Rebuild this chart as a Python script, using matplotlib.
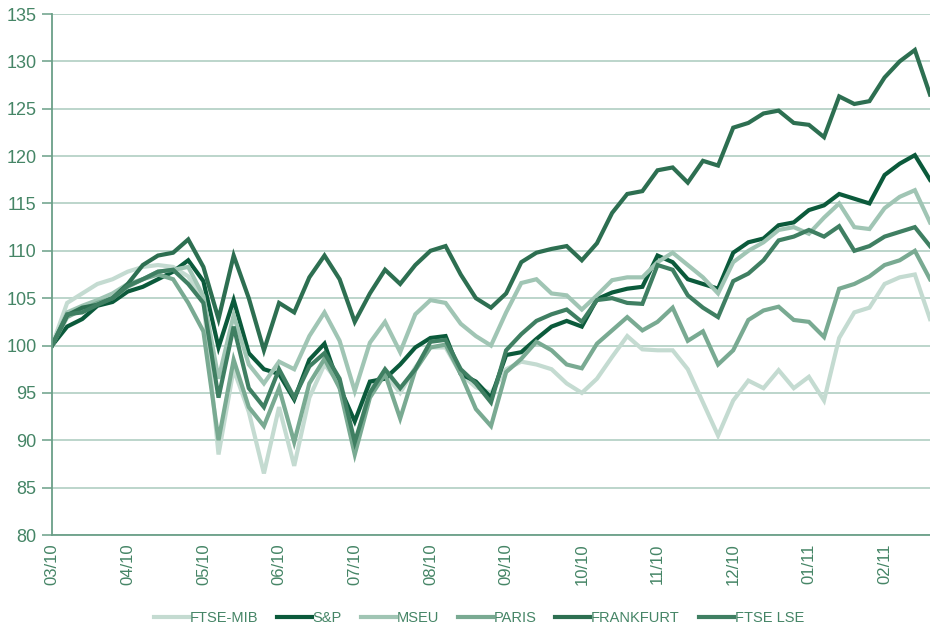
import matplotlib
matplotlib.use("Agg")
import matplotlib.pyplot as plt
import numpy as np

# monthly tick labels (5 samples per month)
months = ["03/10", "04/10", "05/10", "06/10", "07/10", "08/10",
          "09/10", "10/10", "11/10", "12/10", "01/11", "02/11"]

# index levels (base 100), sampled ~every 4 trading days
ftse_mib = [100, 104.5, 105.5, 106.5, 107, 107.8, 108.3, 108.5, 108.3, 107.3,
            104.8, 88.5, 97.5, 93, 86.5, 93.5, 87.3, 94.5, 98, 96,
            88.8, 95.8, 97, 95, 97.7, 99.8, 99.8, 97, 95.6, 95,
            97.5, 98.3, 98, 97.5, 96, 95, 96.5, 98.8, 101, 99.6,
            99.5, 99.5, 97.5, 94, 90.5, 94.2, 96.3, 95.5, 97.4, 95.5,
            96.7, 94.2, 100.8, 103.5, 104, 106.5, 107.2, 107.5, 102.8]
sp = [100, 102, 102.8, 104.2, 104.6, 105.7, 106.2, 107, 107.8, 109,
      106.8, 99.8, 104.8, 99.2, 97.5, 97, 94.3, 98.5, 100.2, 95.6,
      92, 96.2, 96.5, 98, 99.8, 100.8, 101, 97, 96.2, 94.5,
      99, 99.3, 100.7, 102, 102.6, 102, 104.9, 105.6, 106, 106.2,
      109.5, 108.8, 107, 106.5, 106, 109.8, 110.9, 111.3, 112.7, 113,
      114.3, 114.8, 116, 115.5, 115, 118, 119.2, 120.1, 117.5]
mseu = [100, 103.5, 104.2, 104.8, 105.5, 106.5, 107, 107.8, 108, 108.3,
        105.2, 96.5, 103.2, 98, 96, 98.3, 97.5, 101, 103.5, 100.5,
        95.2, 100.3, 102.5, 99.3, 103.3, 104.8, 104.5, 102.3, 101, 100,
        103.5, 106.6, 107, 105.5, 105.3, 103.8, 105.3, 106.9, 107.2, 107.2,
        108.8, 109.8, 108.5, 107.2, 105.5, 108.8, 110, 110.9, 112.2, 112.5,
        111.8, 113.5, 115, 112.5, 112.3, 114.5, 115.7, 116.4, 113]
paris = [100, 103, 103.8, 104.5, 105, 106.2, 107, 107.5, 107, 104.5,
         101.5, 90, 98.5, 93.5, 91.5, 95.5, 89.8, 96, 98.6, 95.5,
         88.5, 94.5, 97, 92.3, 97.4, 99.8, 100.1, 97, 93.3, 91.5,
         97.2, 98.6, 100.4, 99.5, 98, 97.6, 100.2, 101.6, 103, 101.6,
         102.5, 104, 100.5, 101.5, 98, 99.5, 102.7, 103.7, 104.1, 102.7,
         102.5, 100.9, 106, 106.5, 107.3, 108.5, 109, 110, 107]
frankfurt = [100, 103.2, 104, 104.3, 105, 106.5, 108.5, 109.5, 109.8, 111.2,
             108.3, 102.8, 109.5, 105, 99.5, 104.5, 103.5, 107.2, 109.5, 107,
             102.5, 105.5, 108, 106.5, 108.5, 110, 110.5, 107.5, 105, 104,
             105.5, 108.8, 109.8, 110.2, 110.5, 109, 110.8, 114, 116, 116.3,
             118.5, 118.8, 117.2, 119.5, 119, 123, 123.5, 124.5, 124.8, 123.5,
             123.3, 122, 126.3, 125.5, 125.8, 128.3, 130, 131.2, 126.5]
ftse_lse = [100, 103.3, 103.5, 104.3, 105, 106.3, 107, 107.8, 108, 106.5,
            104.5, 94.5, 102, 95.5, 93.5, 97.5, 94.5, 97.8, 99.2, 96.5,
            89.8, 95, 97.5, 95.5, 97.5, 100.4, 100.6, 97.5, 96, 94,
            99.5, 101.2, 102.6, 103.3, 103.8, 102.5, 104.8, 105, 104.5, 104.4,
            108.5, 108, 105.3, 104, 103, 106.8, 107.6, 109, 111.1, 111.5,
            112.2, 111.5, 112.6, 110, 110.5, 111.5, 112, 112.5, 110.5]

series = [
    ("FTSE-MIB", ftse_mib, "#c4dbd1"),
    ("S&P", sp, "#0b5a3b"),
    ("MSEU", mseu, "#a0c5b4"),
    ("PARIS", paris, "#79aa92"),
    ("FRANKFURT", frankfurt, "#2d6f51"),
    ("FTSE LSE", ftse_lse, "#3f7f62"),
]

plt.rcParams['font.family'] = ['Liberation Sans Narrow', 'Liberation Sans', 'DejaVu Sans']
text_color = "#458566"

fig = plt.figure(figsize=(9.3, 6.26), dpi=100)
ax = fig.add_axes([52 / 930, 91 / 626, 1 - 52 / 930, 521 / 626])

for name, vals, color in series:
    ax.plot(np.arange(len(vals)), vals, color=color, linewidth=3.0,
            label=name, solid_joinstyle='miter')

ax.set_xlim(0, 58)
ax.set_ylim(80, 135)
ax.set_yticks(np.arange(80, 136, 5))
ax.set_xticks(np.arange(len(months)) * 5)
ax.set_xticklabels(months, rotation=90)

ax.grid(axis='y', color="#a9cabd", linewidth=1.1)
ax.set_axisbelow(True)
for side in ['top', 'right']:
    ax.spines[side].set_visible(False)
for side in ['left', 'bottom']:
    ax.spines[side].set_color("#6a9f88")
    ax.spines[side].set_linewidth(1.3)

ax.tick_params(axis='y', colors="#6a9f88", labelcolor=text_color,
               labelsize=13, length=7, width=1.1, pad=4)
ax.tick_params(axis='x', length=0, labelcolor=text_color, labelsize=12, pad=6)

ax.legend(loc='upper center', bbox_to_anchor=(0.486, -0.12), ncol=6,
          frameon=False, fontsize=10.5, handlelength=2.4, handletextpad=0.05,
          columnspacing=1.3, labelcolor=text_color)

fig.savefig("out.png", dpi=100)
